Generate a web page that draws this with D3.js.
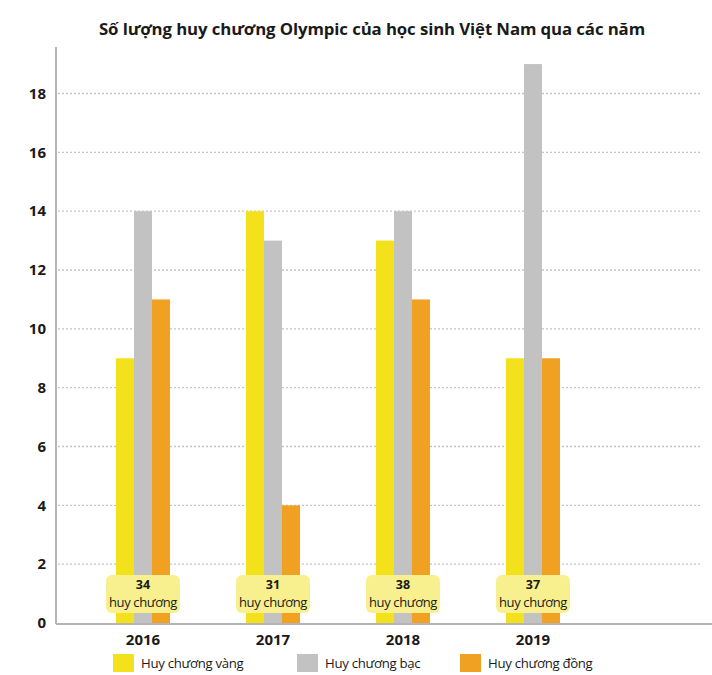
<!DOCTYPE html>
<html>
<head>
<meta charset="utf-8">
<script src="https://cdn.jsdelivr.net/npm/d3@7"></script>
<style>
  html, body { margin: 0; padding: 0; background: #fff; }
  svg { display: block; }
</style>
</head>
<body>
<svg id="chart" width="712" height="675"></svg>
<script>
// Medal counts per year
const years = ["2016", "2017", "2018", "2019"];
const gold = [9, 14, 13, 9];
const silver = [14, 13, 14, 19];
const bronze = [11, 4, 11, 9];
const totals = [34, 31, 38, 37];
const yTicks = [0, 2, 4, 6, 8, 10, 12, 14, 16, 18];
const seriesNames = ["Huy chương vàng", "Huy chương bạc", "Huy chương đồng"];
const seriesColors = ["#f3e21b", "#c2c2c2", "#f1a122"];

const svg = d3.select("#chart");
const font = "'Open Sans', 'Noto Sans', sans-serif";

const plotLeft = 56, plotRight = 712, plotBottom = 623, plotTop = 47;

const x = d3.scaleBand().domain(years).range([78, 598]);
const y = d3.scaleLinear().domain([0, 18]).range([plotBottom, 93.5]);
const sub = d3.scaleBand().domain([0, 1, 2]).range([-27, 27]);

// Title
svg.append("text")
  .attr("x", 372).attr("y", 35)
  .attr("text-anchor", "middle")
  .attr("font-family", font)
  .attr("font-weight", 700)
  .attr("font-size", 16.8)
  .attr("letter-spacing", -0.1)
  .attr("fill", "#1a1a1a")
  .text("Số lượng huy chương Olympic của học sinh Việt Nam qua các năm");

// Dotted gridlines
svg.append("g")
  .selectAll("line")
  .data(yTicks.filter(d => d > 0))
  .join("line")
  .attr("x1", plotLeft + 2).attr("x2", 702)
  .attr("y1", d => y(d)).attr("y2", d => y(d))
  .attr("stroke", "#c4c4c4")
  .attr("stroke-width", 1.3)
  .attr("stroke-dasharray", "2,2");

// Y tick labels
const yAxis = d3.axisLeft(y).tickValues(yTicks).tickSize(0).tickPadding(8);
const gy = svg.append("g").attr("transform", `translate(${plotLeft - 2},0)`).call(yAxis);
gy.select(".domain").remove();
gy.selectAll("text")
  .attr("font-family", font)
  .attr("font-weight", 700)
  .attr("font-size", 15)
  .attr("fill", "#1a1a1a");

// Bars
const groups = svg.append("g")
  .selectAll("g")
  .data(years)
  .join("g")
  .attr("transform", d => `translate(${x(d) + x.bandwidth() / 2},0)`);

const seriesValues = [gold, silver, bronze];
groups.each(function (yr, i) {
  const g = d3.select(this);
  seriesValues.forEach((vals, s) => {
    g.append("rect")
      .attr("x", sub(s))
      .attr("width", sub.bandwidth())
      .attr("y", y(vals[i]))
      .attr("height", plotBottom - y(vals[i]))
      .attr("fill", seriesColors[s]);
  });
  // Total label box
  g.append("rect")
    .attr("x", -37).attr("y", 575)
    .attr("width", 74).attr("height", 38)
    .attr("rx", 6)
    .attr("fill", "#f8f08e");
  g.append("text")
    .attr("y", 589)
    .attr("text-anchor", "middle")
    .attr("font-family", font)
    .attr("font-weight", 700)
    .attr("font-size", 12.5)
    .attr("fill", "#1a1a1a")
    .text(totals[i]);
  g.append("text")
    .attr("y", 607)
    .attr("text-anchor", "middle")
    .attr("font-family", font)
    .attr("font-size", 13)
    .attr("letter-spacing", -0.35)
    .attr("fill", "#1a1a1a")
    .text("huy chương");
});

// Axis lines
svg.append("line")
  .attr("x1", plotLeft).attr("x2", plotLeft)
  .attr("y1", plotTop).attr("y2", plotBottom + 1)
  .attr("stroke", "#b5b5b5").attr("stroke-width", 2);
svg.append("line")
  .attr("x1", plotLeft).attr("x2", plotRight)
  .attr("y1", plotBottom + 1).attr("y2", plotBottom + 1)
  .attr("stroke", "#b5b5b5").attr("stroke-width", 2);

// X axis labels
const xAxis = d3.axisBottom(x).tickSize(0).tickPadding(10);
const gx = svg.append("g").attr("transform", `translate(0,${plotBottom + 1})`).call(xAxis);
gx.select(".domain").remove();
gx.selectAll("text")
  .attr("font-family", font)
  .attr("font-weight", 700)
  .attr("font-size", 15)
  .attr("fill", "#1a1a1a");

// Legend
const legendX = [113, 297, 460];
const legend = svg.append("g")
  .selectAll("g")
  .data(seriesNames)
  .join("g")
  .attr("transform", (d, i) => `translate(${legendX[i]},654)`);
legend.append("rect")
  .attr("width", 21).attr("height", 18)
  .attr("fill", (d, i) => seriesColors[i]);
legend.append("text")
  .attr("x", 28).attr("y", 13.5)
  .attr("font-family", font)
  .attr("font-size", 13.2)
  .attr("letter-spacing", -0.3)
  .attr("fill", "#1a1a1a")
  .text(d => d);
</script>
</body>
</html>
